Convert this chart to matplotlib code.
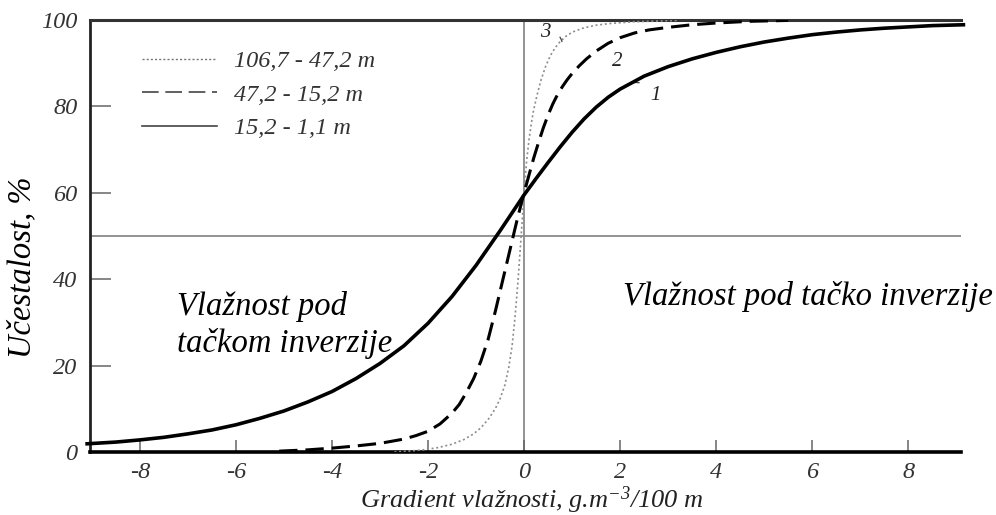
import matplotlib
matplotlib.use('Agg')
import matplotlib.pyplot as plt
from matplotlib.lines import Line2D

plt.rcParams['font.family'] = ['Liberation Serif', 'DejaVu Serif']
plt.rcParams['font.style'] = 'italic'
plt.rcParams['axes.unicode_minus'] = False
plt.rcParams['mathtext.fontset'] = 'custom'
plt.rcParams['mathtext.rm'] = 'Liberation Serif:italic'
plt.rcParams['mathtext.it'] = 'Liberation Serif:italic'
plt.rcParams['mathtext.default'] = 'it'

# krive ucestalosti po slojevima (gradient vlaznosti -> ucestalost %)
x_sloj1 = [-9.1, -8.5, -8, -7.5, -7, -6.5, -6, -5.5, -5, -4.5, -4, -3.5, -3,
           -2.5, -2, -1.5, -1, -0.5, 0, 0.25, 0.5, 0.75, 1, 1.25, 1.5, 1.75,
           2, 2.5, 3, 3.5, 4, 4.5, 5, 5.5, 6, 6.5, 7, 7.5, 8, 8.5, 9.15]
y_sloj1 = [1.9, 2.3, 2.8, 3.4, 4.2, 5.1, 6.3, 7.8, 9.5, 11.6, 14, 17, 20.5,
           24.6, 29.8, 36, 43.2, 51.2, 59.5, 63.3, 67, 70.6, 74, 77.1, 79.8,
           82.1, 84, 87, 89.2, 91, 92.5, 93.8, 94.9, 95.8, 96.6, 97.2, 97.7,
           98.1, 98.4, 98.7, 98.9]

x_sloj2 = [-5.1, -4.5, -4, -3.5, -3, -2.5, -2.25, -2, -1.75, -1.5, -1.35,
           -1.2, -1.05, -0.9, -0.75, -0.6, -0.45, -0.3, -0.15, 0, 0.1, 0.2,
           0.3, 0.4, 0.5, 0.6, 0.7, 0.8, 0.9, 1, 1.15, 1.3, 1.5, 1.75, 2, 2.3,
           2.6, 3, 3.5, 4, 4.7, 5.5]
y_sloj2 = [0.2, 0.5, 0.9, 1.4, 2, 3, 3.8, 4.8, 6.5, 9, 11, 13.8, 17, 21, 26,
           32.5, 39.5, 46.5, 53.5, 60, 64, 68, 71.6, 75, 78, 80.6, 82.8, 84.6,
           86.2, 87.6, 89.4, 91, 92.8, 94.6, 95.9, 97, 97.7, 98.3, 98.9, 99.3,
           99.7, 99.9]

x_sloj3 = [-2.7, -2.4, -2.1, -1.8, -1.5, -1.25, -1.05, -0.9, -0.75, -0.6, -0.5,
           -0.4, -0.32, -0.25, -0.19, -0.13, -0.07, 0, 0.05, 0.1, 0.15, 0.2,
           0.27, 0.35, 0.45, 0.55, 0.65, 0.75, 0.9, 1.05, 1.25, 1.5, 1.8, 2.3,
           3.2]
y_sloj3 = [0, 0.2, 0.5, 1, 1.8, 2.9, 4.2, 5.6, 7.5, 10, 12.3, 15.5, 19.5, 24.5,
           31, 39, 48.5, 60, 67, 72, 76, 79.2, 82.6, 86, 89.3, 91.8, 93.6, 95,
           96.5, 97.4, 98.2, 98.8, 99.2, 99.6, 99.9]

slojevi = ['106,7 - 47,2 m', '47,2 - 15,2 m', '15,2 - 1,1 m']
x_ticks = [-8, -6, -4, -2, 0, 2, 4, 6, 8]
y_ticks = [0, 20, 40, 60, 80, 100]

W, H = 996, 515
fig = plt.figure(figsize=(W / 100, H / 100), dpi=100)
ax = fig.add_axes([90 / W, (H - 452) / H, 871 / W, 432 / H])

# pomocne linije: 50 % i nulti gradient
ax.axhline(50, color='#8a8a8a', lw=1.3, zorder=1)
ax.axvline(0, color='#8a8a8a', lw=1.3, zorder=1)

ax.plot(x_sloj3, y_sloj3, color='#8c8c8c', lw=1.2, linestyle=(0, (1.2, 1.6)),
        zorder=3)
ax.plot(x_sloj2, y_sloj2, color='black', lw=2.2, linestyle=(0, (6, 2.6)),
        zorder=4, dash_joinstyle='round')
ax.plot(x_sloj1, y_sloj1, color='black', lw=2.6, zorder=5, clip_on=False,
        solid_joinstyle='round')

ax.set_xlim(-9.04, 9.1)
ax.set_ylim(0, 100)
ax.set_xticks(x_ticks)
ax.set_xticklabels([str(v) for v in x_ticks])
ax.set_yticks(y_ticks)
ax.tick_params(axis='x', direction='in', length=8.5, width=1.1, color='#666',
               pad=7.5, labelsize=17.5, labelcolor='#333')
ax.tick_params(axis='y', direction='in', length=15, width=1.1, color='#666',
               pad=9, labelsize=17.5, labelcolor='#333')

ax.spines['right'].set_visible(False)
ax.spines['top'].set_color('#333')
ax.spines['top'].set_linewidth(2.2)
ax.spines['left'].set_color('#222')
ax.spines['left'].set_linewidth(2.0)
ax.spines['bottom'].set_color('black')
ax.spines['bottom'].set_linewidth(2.6)

# legenda sa tankim sivim linijama
ruke = [Line2D([], [], color='#777', lw=1.0, linestyle=(0, (1.5, 1.5))),
        Line2D([], [], color='#444', lw=1.2, linestyle=(0, (10, 4))),
        Line2D([], [], color='#444', lw=1.2)]
leg = ax.legend(ruke, slojevi, loc='upper left',
                bbox_to_anchor=(142 / W, (H - 50) / H),
                bbox_transform=fig.transFigure, frameon=False, fontsize=17.5,
                handlelength=3.1, handletextpad=0.7, labelspacing=0.48,
                borderpad=0, borderaxespad=0)
for t in leg.get_texts():
    t.set_color('#333')

# oznake krivih
oznake = [('3', (0.79, 95.0), (0.44, 97.0), -0.5),
          ('2', (1.6, 93.3), (1.94, 90.3), 0.35),
          ('1', (2.27, 85.5), (2.73, 82.6), 0.35)]
for txt, xy, xyt, rad in oznake:
    ax.annotate(txt, xy=xy, xytext=xyt, fontsize=15, color='#222',
                ha='center', va='center',
                arrowprops=dict(arrowstyle='-', color='#444', lw=0.9,
                                shrinkA=6, shrinkB=0,
                                connectionstyle='arc3,rad=%s' % rad))

ax.text(-7.23, 31.7, 'Vlažnost pod', fontsize=23.5, va='baseline', ha='left')
ax.text(-7.23, 23.1, 'tačkom inverzije', fontsize=23.5, va='baseline',
        ha='left')
ax.text(2.06, 34.0, 'Vlažnost pod tačko inverzije', fontsize=23.5,
        va='baseline', ha='left')

fig.text(22 / W, (H - 267) / H, 'Učestalost, %', rotation=90, fontsize=23.5,
         ha='center', va='center')
fig.text(532 / W, (H - 508) / H, 'Gradient vlažnosti, g.m$^{-3}$/100 m',
         fontsize=19, ha='center', va='baseline', color='#222')

fig.savefig('out.png', dpi=100, facecolor='white')
